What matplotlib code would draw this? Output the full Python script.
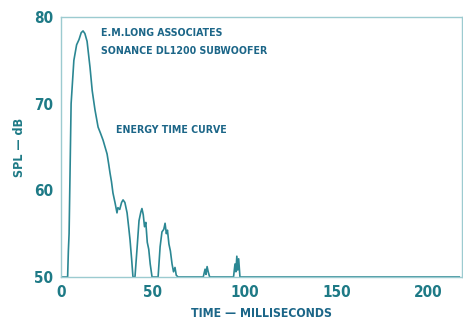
import matplotlib.pyplot as plt

# --- data ---
time_ms = [0, 3.6, 4.0, 4.4, 5.5, 7.0, 8.5, 9.8, 11.0, 12.0, 13.0, 14.2, 15.8, 17.0,
           18.5, 20.2, 21.5, 22.9, 24.0, 25.1, 26.0, 26.7, 27.5, 28.3, 29.5, 30.5,
           31.0, 32.0, 33.0, 33.8, 34.8, 36.0, 37.0, 37.6, 38.5, 39.2, 40.3, 41.5,
           42.5, 43.5, 44.1, 44.8, 45.5, 46.2, 47.0, 47.8, 48.6, 49.6, 52.9, 54.0,
           55.0, 56.0, 56.7, 57.4, 58.0, 58.8, 59.6, 60.5, 61.3, 62.1, 62.8, 63.8,
           77.5, 78.5, 79.0, 79.6, 80.2, 81.0, 94.0, 94.8, 95.3, 95.8, 96.3, 96.8,
           97.5, 217]
spl_db = [50, 50, 53, 55, 70, 75, 76.8, 77.4, 78.2, 78.4, 78.1, 77.2, 74.2, 71.5,
          69.3, 67.3, 66.6, 65.8, 65.0, 64.2, 63.0, 62.0, 61.0, 59.7, 58.5, 57.4,
          58.0, 57.8, 58.6, 58.9, 58.6, 57.4, 55.5, 54.3, 52.0, 50.0, 50.0, 53.5,
          56.5, 57.5, 57.9, 57.2, 55.8, 56.3, 54.0, 53.2, 51.5, 50.0, 50.0, 53.5,
          55.2, 55.5, 56.2, 55.0, 55.4, 53.8, 53.0, 51.5, 50.6, 51.1, 50.2, 50.0,
          50.0, 50.9, 50.3, 51.2, 50.6, 50.0, 50.0, 51.5, 50.6, 52.4, 50.8, 52.1,
          50.0, 50.0]

x_ticks = [0, 50, 100, 150, 200]
y_ticks = [50, 60, 70, 80]

line_col = '#2b8793'
text_col = '#1c6688'
tick_col = '#1e7a86'
font = ['DejaVu Sans']
cond = dict(family=font, fontweight='bold', fontstretch='condensed')

fig = plt.figure(figsize=(4.64, 3.22), dpi=100)
ax = fig.add_axes([0.1315, 0.1398, 0.8642, 0.8072])

ax.plot(time_ms, spl_db, color=line_col, lw=1.2)

ax.set_xlim(0, 218.5)
ax.set_ylim(50, 80)
ax.set_xticks(x_ticks)
ax.set_yticks(y_ticks)
ax.tick_params(length=0, pad=5.5, labelcolor=tick_col)
for lbl in ax.get_xticklabels() + ax.get_yticklabels():
    lbl.set_fontfamily(font)
    lbl.set_fontweight('bold')
    lbl.set_fontstretch('condensed')
    lbl.set_fontsize(11)

for s in ax.spines.values():
    s.set_color('#9ccbd0')
    s.set_linewidth(1.0)

ax.set_xlabel('TIME \u2014 MILLISECONDS', color=text_col, fontsize=8.8,
              labelpad=5, **cond)
ax.set_ylabel('SPL \u2014 dB', color=tick_col, fontsize=9, labelpad=6, **cond)

ax.text(22, 78.2, 'E.M.LONG ASSOCIATES', color=text_col, fontsize=7.6,
        va='center', **cond)
ax.text(22, 76.1, 'SONANCE DL1200 SUBWOOFER', color=text_col, fontsize=7.6,
        va='center', **cond)
ax.text(30, 67.0, 'ENERGY TIME CURVE', color=text_col, fontsize=7.6,
        va='center', **cond)

plt.savefig('out.png', dpi=100)
